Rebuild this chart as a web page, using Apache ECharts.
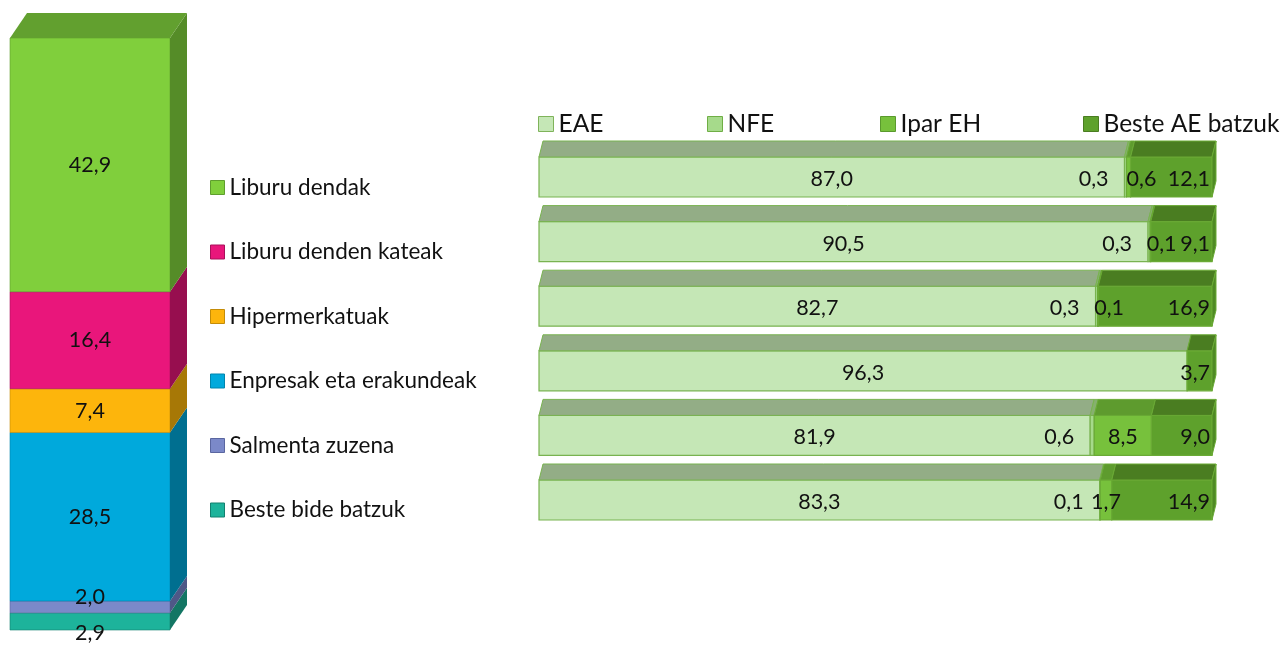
<!DOCTYPE html>
<html><head><meta charset="utf-8">
<script src="https://cdn.jsdelivr.net/npm/echarts@6/dist/echarts.min.js"></script>
<style>html,body{margin:0;padding:0;background:#fff}#c{width:1287px;height:646px}</style>
</head><body><div id="c"></div>
<script>
// ---- data ----
const channels = ['Liburu dendak','Liburu denden kateak','Hipermerkatuak','Enpresak eta erakundeak','Salmenta zuzena','Beste bide batzuk'];
const channelShares = [42.9, 16.4, 7.4, 28.5, 2.0, 2.9];
const regions = ['EAE','NFE','Ipar EH','Beste AE batzuk'];
const eaeShare   = [87.0, 90.5, 82.7, 96.3, 81.9, 83.3];
const nfeShare   = [0.3, 0.3, 0.3, 0, 0.6, 0.1];
const iparShare  = [0.6, 0.1, 0.1, 0, 8.5, 1.7];
const besteShare = [12.1, 9.1, 16.9, 3.7, 9.0, 14.9];

// ---- styles ----
const FONT = 'Lato, "DejaVu Sans", sans-serif';
const chStyles = [
  {front:'#80cf3c', side:'#558c28', top:'#62a02f', border:'#5f9e2e'},
  {front:'#e9167b', side:'#970e4f', top:'#b8125f', border:'#a8105a'},
  {front:'#fdb50c', side:'#a77806', top:'#c99008', border:'#c48c08'},
  {front:'#00a9dc', side:'#006f90', top:'#0088b0', border:'#0085ad'},
  {front:'#7b89c9', side:'#4e5887', top:'#5f6aa3', border:'#5a66a0'},
  {front:'#1db39b', side:'#137664', top:'#17907d', border:'#13806f'}
];
const rgStyles = [
  {front:'#c5e7b6', top:'#93ad86', stroke:'#79b350', legend:'#c5e7b6', border:'#7fb35a'},
  {front:'#a6da8b', top:'#86b06e', stroke:'#79b350', legend:'#a6da8b', border:'#6fae45'},
  {front:'#77c13c', top:'#5e9b2e', stroke:'#6aaa35', legend:'#77c13c', border:'#5a9a2d'},
  {front:'#5ea12c', top:'#4a7d21', stroke:'#6aaa35', side:'#4f8a25', legend:'#5ea12c', border:'#4a7d21'}
];
const fmt = v => v.toFixed(1).replace('.', ',');

// ---- left column (stacked from the bottom) ----
const LDX = 17, LDY = -25;
const total = channelShares.reduce((a,b)=>a+b,0);
const leftSeries = [];
let acc = 0;
for (let i = channels.length - 1; i >= 0; i--) {
  const s = acc, e = acc + channelShares[i];
  acc = e;
  const st = chStyles[i];
  const isTop = i === 0, isBottom = i === channels.length - 1;
  leftSeries.push({
    type:'custom', name: channels[i], xAxisIndex:0, yAxisIndex:0,
    itemStyle:{color: st.front},
    encode:{x:0, y:[1,2]},
    data:[[0, s, e, channelShares[i]]],
    renderItem:function(params, api){
      const a = api.value(1), b = api.value(2), v = api.value(3);
      const pB = api.coord([0, a]), pT = api.coord([0, b]);
      const w = api.size([1,0])[0];
      const x0 = pB[0]-w/2, x1 = pB[0]+w/2, yb = pB[1], yt = pT[1];
      const ch = [
        {type:'rect', shape:{x:x0, y:yt, width:w, height:yb-yt}, style:{fill:st.front, stroke:st.border, lineWidth:0.6}},
        {type:'polygon', shape:{points:[[x1,yt],[x1+LDX,yt+LDY],[x1+LDX,yb+LDY],[x1,yb]]}, style:{fill:st.side}}
      ];
      if (isTop) ch.push({type:'polygon', shape:{points:[[x0,yt],[x0+LDX,yt+LDY],[x1+LDX,yt+LDY],[x1,yt]]}, style:{fill:st.top}});
      let ly = (yt+yb)/2;
      if (v < 5) ly = isBottom ? yb + 3 : yt - 4;
      ch.push({type:'text', z2:100, x:pB[0], y:ly, style:{text:fmt(v), fill:'#111', font:'21.5px '+FONT, align:'center', verticalAlign:'middle'}});
      return {type:'group', children:ch};
    }
  });
}

// ---- right stacked bars ----
const RDX = 4, RDY = -16, BH = 40;
const regionData = [eaeShare, nfeShare, iparShare, besteShare];
const starts = channels.map(()=>0);
const rightSeries = regionData.map((arr, k) => {
  const data = arr.map((v, r) => { const s = starts[r]; starts[r] += v; return [r, s, s+v, v]; });
  const st = rgStyles[k];
  return {
    type:'custom', name: regions[k], xAxisIndex:1, yAxisIndex:1,
    itemStyle:{color: st.front},
    encode:{x:[1,2], y:0},
    data,
    renderItem:function(params, api){
      const r = api.value(0), a = api.value(1), b = api.value(2), v = api.value(3);
      if (!(v > 0)) return null;
      const p0 = api.coord([a, r]), p1 = api.coord([b, r]);
      const yc = p0[1], y0 = yc - BH/2, y1 = yc + BH/2, x0 = p0[0], x1 = p1[0];
      const ch = [
        {type:'rect', shape:{x:x0, y:y0, width:x1-x0, height:BH}, style:{fill:st.front, stroke:st.stroke, lineWidth:1.2}},
        {type:'polygon', shape:{points:[[x0,y0],[x0+RDX,y0+RDY],[x1+RDX,y0+RDY],[x1,y0]]}, style:{fill:st.top, stroke:st.stroke, lineWidth:1}}
      ];
      if (k === 3) ch.push({type:'polygon', shape:{points:[[x1,y0],[x1+RDX,y0+RDY],[x1+RDX,y1+RDY],[x1,y1]]}, style:{fill:st.side, stroke:st.stroke, lineWidth:1}});
      let lx = (x0+x1)/2, align = 'center';
      if (k === 1) { lx = x0 - 16; align = 'right'; }
      else if (k === 2 && v < 1) { lx = x1 - 4; align = 'left'; }
      else if (k === 3) { lx = x1 - 2; align = 'right'; }
      ch.push({type:'text', z2:100, x:lx, y:yc+2, style:{text:fmt(v), fill:'#111', font:'21.5px '+FONT, align, verticalAlign:'middle'}});
      return {type:'group', children:ch};
    }
  };
});

// ---- legends ----
const legends = [];
const leftLegendY = [187, 251.5, 316, 380.5, 445, 509.5];
channels.forEach((n, i) => legends.push({
  left:205, top:leftLegendY[i]-16, selectedMode:false, itemWidth:14, itemHeight:14, icon:'rect', itemGap:0,
  textStyle:{fontFamily:FONT, fontSize:22.5, color:'#111', lineHeight:22},
  data:[{name:n, itemStyle:{color:chStyles[i].front, borderColor:chStyles[i].border, borderWidth:1}}]
}));
const topLegendX = [533, 702, 875, 1078];
regions.forEach((n, k) => legends.push({
  left:topLegendX[k], top:106.5, selectedMode:false, itemWidth:15, itemHeight:15, icon:'rect',
  textStyle:{fontFamily:FONT, fontSize:24.5, color:'#111', lineHeight:24},
  data:[{name:n, itemStyle:{color:rgStyles[k].legend, borderColor:rgStyles[k].border, borderWidth:1}}]
}));

const chart = echarts.init(document.getElementById('c'), null, {renderer:'canvas'});
chart.setOption({
  backgroundColor:'#fff',
  animation:false,
  legend: legends,
  grid:[
    {left:10, top:38, width:160, height:592},
    {left:539, top:144.7, width:673, height:387.6}
  ],
  xAxis:[
    {type:'category', gridIndex:0, data:['x'], show:false},
    {type:'value', gridIndex:1, min:0, max:100, show:false}
  ],
  yAxis:[
    {type:'value', gridIndex:0, min:0, max:total, show:false},
    {type:'category', gridIndex:1, data:channels, inverse:true, show:false}
  ],
  series: leftSeries.concat(rightSeries)
});
</script></body></html>
